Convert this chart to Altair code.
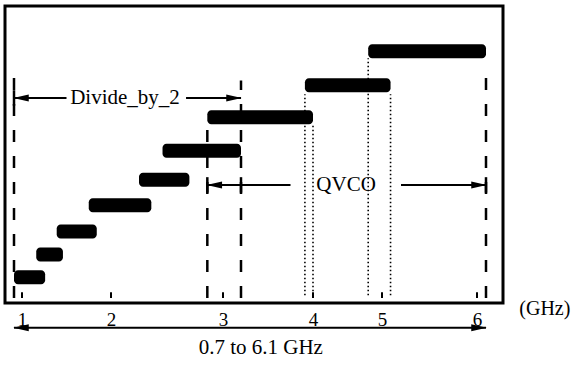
import altair as alt
import pandas as pd

# Frequency axis: the drawn axis is not evenly spaced, so the x scale is
# piecewise linear through these anchor points (GHz -> pixels in the plot).
axis_ghz = [0.7, 1, 2, 3, 4, 5, 6, 6.1]
axis_px = [9, 17, 106, 218, 308, 377, 472, 481]
tick_values = [1, 2, 3, 4, 5, 6]

# Sub-band tuning ranges (GHz) and their stacking level (0-100, bottom to top)
band_lo = [0.70, 1.16, 1.39, 1.75, 2.25, 2.46, 2.86, 3.91, 4.80]
band_hi = [1.26, 1.46, 1.84, 2.36, 2.70, 3.20, 4.00, 5.09, 6.10]
band_level = [7.2, 15.2, 23.2, 32.3, 41.2, 51.3, 63.0, 74.1, 86.0]

# Long-dashed guides at the range limits
dash_x = [0.7, 2.86, 3.2, 6.1]
dash_top = [80.8, 60.6, 75.8, 81.1]

# Dotted guides at the overlaps of the QVCO bands
dot_x = [3.91, 4.00, 4.80, 5.09]
dot_top = [71.0, 60.6, 83.5, 71.0]

# Range arrows: start, end, level, label, label centre, gap around label
arrow_name = ["Divide_by_2", "QVCO", "0.7 to 6.1 GHz"]
arrow_lo = [0.7, 2.86, 0.7]
arrow_hi = [3.2, 6.1, 6.1]
arrow_level = [69.7, 39.4, -10.4]
label_x = [2.125, 4.48, 3.42]
label_level = [69.7, 39.4, -17.5]
gap_lo = [1.50, 3.75, None]
gap_hi = [2.67, 5.20, None]

unit_label = "(GHz)"
unit_x = 6.47
unit_level = -3.7

FONT = "Liberation Serif"
XSCALE = alt.Scale(domain=axis_ghz, range=axis_px, nice=False, zero=False)
YSCALE = alt.Scale(domain=[0, 100], nice=False, zero=False)
XAXIS = alt.Axis(values=tick_values, ticks=False, domain=False, grid=False,
                 labelFont=FONT, labelFontSize=19, labelColor="black",
                 labelPadding=7, labelFlush=False, title=None, format="d")


def xq(field):
    return alt.X(field, type="quantitative", scale=XSCALE, axis=XAXIS)


def yq(field):
    return alt.Y(field, type="quantitative", scale=YSCALE, axis=None)


bands = pd.DataFrame({"lo": band_lo, "hi": band_hi, "lv": band_level})
bars = alt.Chart(bands).mark_bar(size=14, cornerRadius=4, color="black").encode(
    x=xq("lo"), x2="hi", y=yq("lv"))

dashes = pd.DataFrame({"x": dash_x, "lv": [0] * len(dash_x), "lv2": dash_top})
dash_rules = alt.Chart(dashes).mark_rule(
    color="black", strokeWidth=2.5, strokeDash=[12, 14]).encode(
    x=xq("x"), y=yq("lv"), y2="lv2")

dots = pd.DataFrame({"x": dot_x, "lv": [1] * len(dot_x), "lv2": dot_top})
dot_rules = alt.Chart(dots).mark_rule(
    color="black", strokeWidth=1.6, strokeDash=[1.5, 2.5]).encode(
    x=xq("x"), y=yq("lv"), y2="lv2")

ticks = pd.DataFrame({"x": tick_values, "lv": [0] * 6, "lv2": [2] * 6})
tick_rules = alt.Chart(ticks).mark_rule(color="black", strokeWidth=2).encode(
    x=xq("x"), y=yq("lv"), y2="lv2")

# Arrow shafts, split around the labels that sit on them
seg_rows = []
for lo, hi, lv, g0, g1 in zip(arrow_lo, arrow_hi, arrow_level, gap_lo, gap_hi):
    if g0 is None:
        seg_rows.append({"a": lo, "b": hi, "lv": lv})
    else:
        seg_rows.append({"a": lo, "b": g0, "lv": lv})
        seg_rows.append({"a": g1, "b": hi, "lv": lv})
shafts = alt.Chart(pd.DataFrame(seg_rows)).mark_rule(
    color="black", strokeWidth=2).encode(x=xq("a"), x2="b", y=yq("lv"))

heads = pd.DataFrame({"lo": arrow_lo, "hi": arrow_hi, "lv": arrow_level})
left_heads = alt.Chart(heads).mark_point(
    shape="M-1,0L1,-0.45L1,0.45Z", size=240, filled=True, opacity=1,
    color="black", xOffset=7).encode(x=xq("lo"), y=yq("lv"))
right_heads = alt.Chart(heads).mark_point(
    shape="M1,0L-1,-0.45L-1,0.45Z", size=240, filled=True, opacity=1,
    color="black", xOffset=-7).encode(x=xq("hi"), y=yq("lv"))

# Short end bars on the Divide_by_2 and QVCO arrows
cap_x = [0.7, 2.86, 3.2, 6.1]
cap_center = [69.7, 39.4, 39.4, 39.4]
caps = pd.DataFrame({"x": cap_x,
                     "lv": [c - 2.7 for c in cap_center],
                     "lv2": [c + 2.7 for c in cap_center]})
cap_rules = alt.Chart(caps).mark_rule(color="black", strokeWidth=2.5).encode(
    x=xq("x"), y=yq("lv"), y2="lv2")

labels = pd.DataFrame({"t": arrow_name, "x": label_x, "lv": label_level})
label_text = alt.Chart(labels).mark_text(
    font=FONT, fontSize=21, color="black", baseline="middle", align="center"
).encode(x=xq("x"), y=yq("lv"), text="t")

unit = pd.DataFrame({"t": [unit_label], "x": [unit_x], "lv": [unit_level]})
unit_text = alt.Chart(unit).mark_text(
    font=FONT, fontSize=20, color="black", baseline="middle", align="left"
).encode(x=xq("x"), y=yq("lv"), text="t")

chart = alt.layer(
    dash_rules, dot_rules, tick_rules, shafts, cap_rules,
    left_heads, right_heads, bars, label_text, unit_text
).properties(
    width=498, height=297,
    padding={"left": 5, "top": 6, "right": 71, "bottom": 67},
    autosize=alt.AutoSizeParams(type="none"),
    background="white",
).configure_view(stroke="black", strokeWidth=3)

chart.save("out.html", embed_options={"renderer": "svg", "actions": False})
